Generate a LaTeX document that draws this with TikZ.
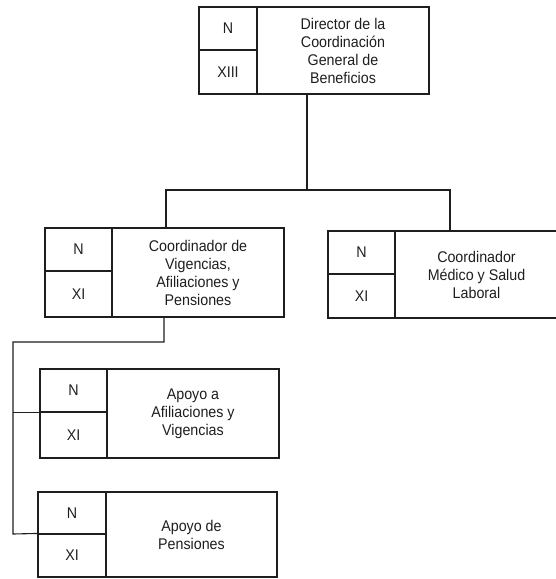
\documentclass[tikz,border=0pt]{standalone}
\usepackage{fontspec}
\setmainfont{Liberation Sans}[FakeStretch=0.92]
\usetikzlibrary{calc}
\definecolor{ink}{HTML}{1E1E1E}
\tikzset{
  cell/.style={draw=ink, line width=1.1pt, inner sep=0pt, text=ink, font=\fontsize{15.5}{18}\selectfont, align=center},
  link/.style={draw=ink, line width=1.1pt}
}
% \orgbox{id}{L}{D}{R}{T}{M}{B}{roman}{text}
\newcommand{\orgbox}[9]{%
  \node[cell, minimum width={(#3-#2)*1pt}, minimum height={(#6-#5)*1pt}] (#1n) at ({(#2+#3)/2},{(#5+#6)/2}) {N};
  \node[cell, minimum width={(#3-#2)*1pt}, minimum height={(#7-#6)*1pt}] (#1r) at ({(#2+#3)/2},{(#6+#7)/2}) {#8};
  \node[cell, minimum width={(#4-#3)*1pt}, minimum height={(#7-#5)*1pt}] (#1t) at ({(#3+#4)/2},{(#5+#7)/2}) {#9};
}
\begin{document}
\begin{tikzpicture}[x=1pt,y=-1pt]
\useasboundingbox (0,0) rectangle (556,579);
\orgbox{A}{199}{257}{429}{7}{50}{94}{XIII}{Director de la\\Coordinación\\General de\\Beneficios}
\orgbox{B}{45}{112}{284}{228}{271}{317}{XI}{Coordinador de\\Vigencias,\\Afiliaciones y\\Pensiones}
\orgbox{C}{328}{395}{558}{231}{274}{318}{XI}{Coordinador\\Médico y Salud\\Laboral}
\orgbox{D}{40}{107}{279}{369}{412}{458}{XI}{Apoyo a\\Afiliaciones y\\Vigencias}
\orgbox{E}{38}{106}{277}{492}{534}{577}{XI}{Apoyo de\\Pensiones}
\coordinate (j1) at (307,190);
\coordinate (jl) at (166,190);
\coordinate (jr) at (450,190);
\coordinate (k1) at (164,342);
\coordinate (k2) at (13,342);
\coordinate (k3) at (13,534);
\draw[link] (At.south -| j1) -- (j1);
\draw[link] (Bt.north -| jl) -- (jl) -- (jr) -- (Ct.north -| jr);
\draw[link] (Bt.south -| k1) -- (k1) -- (k2) -- (k3) -- (Er.north west);
\draw[link] (k2 |- Dn.south west) -- (Dn.south west);
\end{tikzpicture}
\end{document}
